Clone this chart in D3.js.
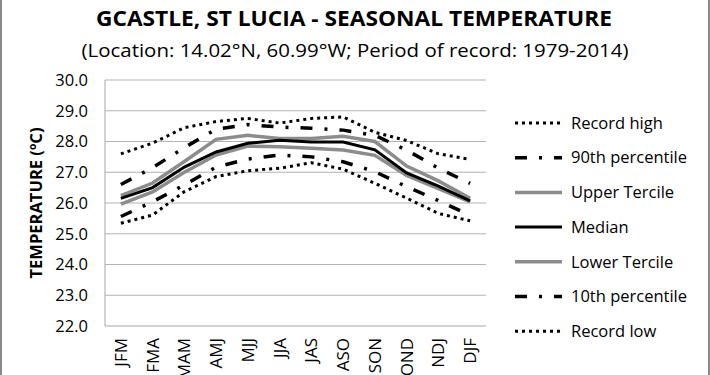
<!DOCTYPE html>
<html>
<head>
<meta charset="utf-8">
<script src="https://cdn.jsdelivr.net/npm/d3@7"></script>
<style>
	body { margin: 0; background: #fff; }
	text { font-family: 'Open Sans', sans-serif; fill: #000; }
</style>
</head>
<body>
<svg id="chart"></svg>
<script>
const seasons = [ 'JFM', 'FMA', 'MAM', 'AMJ', 'MJJ', 'JJA', 'JAS', 'ASO', 'SON', 'OND', 'NDJ', 'DJF' ];
const recordHigh = [ 27.6, 27.95, 28.45, 28.65, 28.75, 28.6, 28.75, 28.8, 28.3, 28.03, 27.6, 27.42 ];
const pct90 = [ 26.6, 27.15, 27.8, 28.4, 28.55, 28.47, 28.43, 28.37, 28.2, 27.72, 27.13, 26.64 ];
const upperTercile = [ 26.24, 26.65, 27.35, 28.07, 28.2, 28.1, 28.1, 28.17, 28.0, 27.2, 26.72, 26.15 ];
const median = [ 26.15, 26.5, 27.17, 27.66, 27.94, 28.04, 27.98, 27.98, 27.73, 26.98, 26.55, 26.07 ];
const lowerTercile = [ 25.96, 26.36, 27.0, 27.56, 27.85, 27.83, 27.78, 27.72, 27.55, 26.9, 26.47, 26.04 ];
const pct10 = [ 25.56, 26.04, 26.59, 27.17, 27.43, 27.56, 27.5, 27.34, 27.02, 26.53, 26.08, 25.6 ];
const recordLow = [ 25.34, 25.61, 26.37, 26.86, 27.05, 27.13, 27.31, 27.1, 26.64, 26.16, 25.66, 25.42 ];
const yTicks = [ 22, 23, 24, 25, 26, 27, 28, 29, 30 ];

const width = 710;
const height = 375;
const plot = { left: 105, right: 486, top: 80, bottom: 326 };

// series in legend order, drawn so black sits over gray
const series = [
	{ name: 'Record high', values: recordHigh, color: '#000', w: 3, dash: '3,4', z: 1 },
	{ name: '90th percentile', values: pct90, color: '#000', w: 3.5, dash: '12,12,3,12', z: 1 },
	{ name: 'Upper Tercile', values: upperTercile, color: '#8c8c8c', w: 3.5, dash: null, z: 0 },
	{ name: 'Median', values: median, color: '#000', w: 3, dash: null, z: 2 },
	{ name: 'Lower Tercile', values: lowerTercile, color: '#8c8c8c', w: 3.5, dash: null, z: 0 },
	{ name: '10th percentile', values: pct10, color: '#000', w: 3.5, dash: '12,12,3,12', z: 1 },
	{ name: 'Record low', values: recordLow, color: '#000', w: 3, dash: '3,4', z: 1 },
];

const svg = d3.select( '#chart' )
	.attr( 'width', width )
	.attr( 'height', height );

// frame edges
svg.append( 'line' ).attr( 'x1', 1 ).attr( 'x2', 1 ).attr( 'y1', 0 ).attr( 'y2', height )
	.attr( 'stroke', '#888' ).attr( 'stroke-width', 2 );
svg.append( 'line' ).attr( 'x1', 709 ).attr( 'x2', 709 ).attr( 'y1', 0 ).attr( 'y2', height )
	.attr( 'stroke', '#888' ).attr( 'stroke-width', 2 );

const x = d3.scalePoint()
	.domain( seasons )
	.range( [ plot.left, plot.right ] )
	.padding( 0.5 );

const y = d3.scaleLinear()
	.domain( [ 22, 30 ] )
	.range( [ plot.bottom, plot.top ] );

// Gridlines
svg.append( 'g' )
	.selectAll( 'line' )
	.data( yTicks.filter( ( d ) => d > 22 ) )
	.enter()
	.append( 'line' )
	.attr( 'x1', plot.left )
	.attr( 'x2', plot.right )
	.attr( 'y1', ( d ) => y( d ) )
	.attr( 'y2', ( d ) => y( d ) )
	.attr( 'stroke', '#b3b3b3' )
	.attr( 'stroke-width', 1 );

// Axis lines
svg.append( 'line' )
	.attr( 'x1', plot.left ).attr( 'x2', plot.left )
	.attr( 'y1', plot.top ).attr( 'y2', plot.bottom )
	.attr( 'stroke', '#a6a6a6' );
svg.append( 'line' )
	.attr( 'x1', plot.left ).attr( 'x2', plot.right )
	.attr( 'y1', plot.bottom ).attr( 'y2', plot.bottom )
	.attr( 'stroke', '#a6a6a6' );

// Y tick labels
svg.append( 'g' )
	.selectAll( 'text' )
	.data( yTicks )
	.enter()
	.append( 'text' )
	.attr( 'x', 88 )
	.attr( 'y', ( d ) => y( d ) )
	.attr( 'dy', '0.35em' )
	.attr( 'text-anchor', 'end' )
	.style( 'font-size', '16.5px' )
	.text( ( d ) => d.toFixed( 1 ) );

// X tick labels, rotated
svg.append( 'g' )
	.selectAll( 'text' )
	.data( seasons )
	.enter()
	.append( 'text' )
	.attr( 'transform', ( d ) => `translate(${ x( d ) },338) rotate(-90)` )
	.attr( 'dy', '0.35em' )
	.attr( 'text-anchor', 'end' )
	.style( 'font-size', '17px' )
	.text( ( d ) => d );

// Y axis title
const yTitle = svg.append( 'text' )
	.attr( 'transform', `translate(42,${ ( plot.top + plot.bottom ) / 2 }) rotate(-90)` )
	.attr( 'text-anchor', 'middle' )
	.attr( 'textLength', 151 )
	.attr( 'lengthAdjust', 'spacingAndGlyphs' )
	.style( 'font-size', '16px' )
	.style( 'font-weight', 'bold' );
yTitle.append( 'tspan' ).text( 'TEMPERATURE (' );
yTitle.append( 'tspan' ).attr( 'dy', '-6' ).style( 'font-size', '10px' ).text( 'o' );
yTitle.append( 'tspan' ).attr( 'dy', '6' ).text( 'C)' );

// Lines
const line = d3.line()
	.x( ( d, i ) => x( seasons[ i ] ) )
	.y( ( d ) => y( d ) );

svg.append( 'g' )
	.selectAll( 'path' )
	.data( series.slice().sort( ( a, b ) => a.z - b.z ) )
	.enter()
	.append( 'path' )
	.attr( 'd', ( d ) => line( d.values ) )
	.attr( 'fill', 'none' )
	.attr( 'stroke', ( d ) => d.color )
	.attr( 'stroke-width', ( d ) => d.w )
	.attr( 'stroke-dasharray', ( d ) => d.dash );

// Legend
const legend = svg.append( 'g' )
	.selectAll( 'g' )
	.data( series )
	.enter()
	.append( 'g' )
	.attr( 'transform', ( d, i ) => `translate(515,${ 123 + i * 34.7 })` );

legend.append( 'line' )
	.attr( 'x1', 0 )
	.attr( 'x2', 47 )
	.attr( 'stroke', ( d ) => d.color )
	.attr( 'stroke-width', ( d ) => d.w )
	.attr( 'stroke-dasharray', ( d ) => d.dash );

legend.append( 'text' )
	.attr( 'x', 56 )
	.attr( 'dy', '0.35em' )
	.style( 'font-size', '16.5px' )
	.text( ( d ) => d.name );

// Titles
svg.append( 'text' )
	.attr( 'x', 354 )
	.attr( 'y', 26 )
	.attr( 'text-anchor', 'middle' )
	.attr( 'textLength', 516 )
	.attr( 'lengthAdjust', 'spacingAndGlyphs' )
	.style( 'font-size', '21px' )
	.style( 'font-weight', 'bold' )
	.text( 'GCASTLE, ST LUCIA - SEASONAL TEMPERATURE' );

svg.append( 'text' )
	.attr( 'x', 355 )
	.attr( 'y', 57 )
	.attr( 'text-anchor', 'middle' )
	.attr( 'textLength', 547 )
	.attr( 'lengthAdjust', 'spacingAndGlyphs' )
	.style( 'font-size', '18px' )
	.text( '(Location: 14.02°N, 60.99°W; Period of record: 1979-2014)' );
</script>
</body>
</html>
